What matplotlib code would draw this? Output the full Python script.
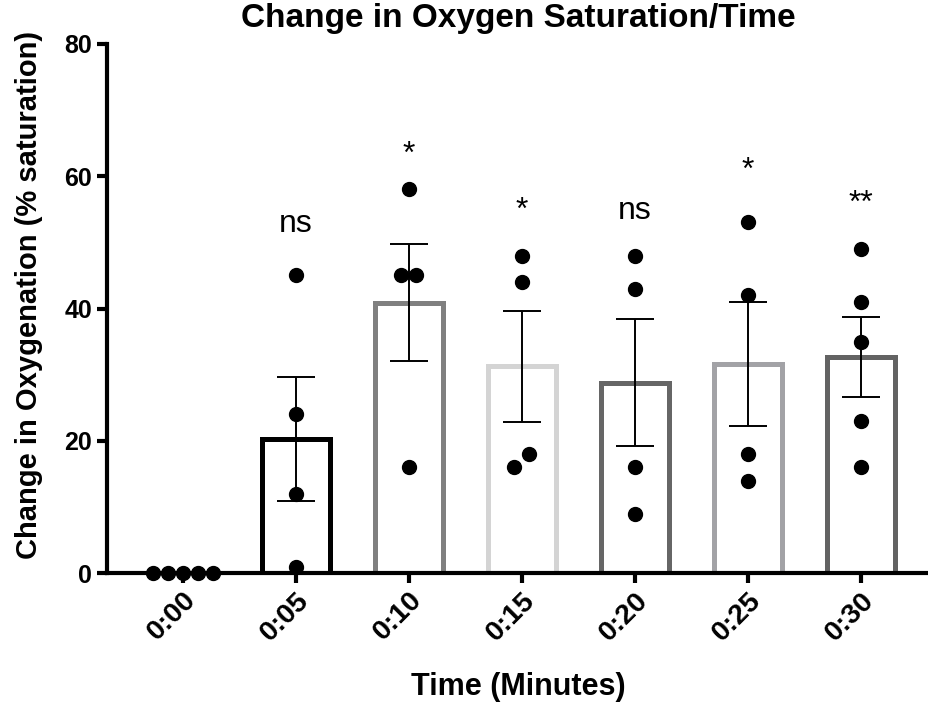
import numpy as np
import matplotlib
matplotlib.use('Agg')
import matplotlib.pyplot as plt
import matplotlib.transforms as mtransforms

matplotlib.rcParams['font.family'] = ['Liberation Sans', 'DejaVu Sans']

times = ['0:00', '0:05', '0:10', '0:15', '0:20', '0:25', '0:30']
points = [
    [0, 0, 0, 0, 0],
    [45, 24, 12, 1],
    [58, 45, 45, 16],
    [48, 44, 18, 16],
    [48, 43, 16, 9],
    [53, 42, 18, 14],
    [49, 41, 35, 23, 16],
]
means = [0, 20.3, 40.9, 31.3, 28.8, 31.6, 32.7]
sems = [0, 9.4, 8.8, 8.4, 9.6, 9.4, 6.0]
sig = ['', 'ns', '*', '*', 'ns', '*', '**']
sig_y = [0, 50.5, 61, 52.5, 52.4, 58.6, 53.5]
edge_colors = ['black', 'black', '#808080', '#d4d4d4', '#666666', '#a2a2a6', '#636363']


def swarm_offsets(vals, step=0.133, tol=2.5):
    # spread points that would overlap into a row
    vals = np.asarray(vals, dtype=float)
    order = np.argsort(vals)
    offs = np.zeros(len(vals))
    groups = [[order[0]]]
    for i in order[1:]:
        if vals[i] - vals[groups[-1][-1]] < tol:
            groups[-1].append(i)
        else:
            groups.append([i])
    for g in groups:
        n = len(g)
        for k, idx in enumerate(g):
            offs[idx] = (k - (n - 1) / 2) * step
    return offs


fig = plt.figure(figsize=(9.29, 7.06), dpi=100)
ax = fig.add_axes([0.115, 0.188, 0.885, 0.75])

x = np.arange(len(times))
for i in range(len(times)):
    if means[i] > 0:
        ax.bar(x[i], means[i], width=0.6, facecolor='white',
               edgecolor=edge_colors[i], linewidth=3.6, zorder=2)
        ax.errorbar(x[i], means[i], yerr=sems[i], fmt='none', ecolor='black',
                    elinewidth=1.4, capsize=14, capthick=1.4, zorder=3)
    offs = swarm_offsets(points[i])
    ax.plot(x[i] + offs, points[i], 'o', color='black', markersize=10,
            linestyle='none', zorder=4, clip_on=False)
    if sig[i]:
        ax.text(x[i], sig_y[i], sig[i], ha='center', va='bottom', fontsize=23)

ax.set_xlim(-0.67, 6.6)
ax.set_ylim(0, 80)
ax.set_yticks([0, 20, 40, 60, 80])
ax.set_xticks(x)
ax.set_xticklabels(times, rotation=45, ha='right', rotation_mode='anchor',
                   fontweight='bold', fontsize=20.5)
shift = mtransforms.ScaledTranslation(-8 / 72, -2 / 72, fig.dpi_scale_trans)
for lab in ax.get_xticklabels():
    lab.set_transform(lab.get_transform() + shift)
for lab in ax.get_yticklabels():
    lab.set_fontweight('bold')
    lab.set_fontsize(18)

for s in ['top', 'right']:
    ax.spines[s].set_visible(False)
for s in ['left', 'bottom']:
    ax.spines[s].set_linewidth(3)
ax.tick_params(width=3, length=7)
ax.tick_params(axis='x', pad=3)

ax.set_title('Change in Oxygen Saturation/Time', fontsize=24, fontweight='bold', pad=12)
ax.set_xlabel('Time (Minutes)', fontsize=22, fontweight='bold')
ax.set_ylabel('Change in Oxygenation (% saturation)', fontsize=21, fontweight='bold')
ax.xaxis.set_label_coords(0.5, -0.187)
ax.yaxis.set_label_coords(-0.078, 0.525)

plt.savefig('out.png', dpi=100)
